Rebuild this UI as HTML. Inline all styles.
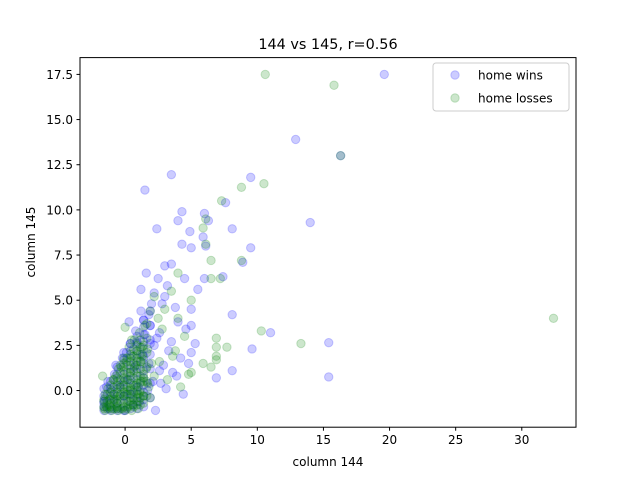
<!DOCTYPE html>
<html><head><meta charset="utf-8"><style>
body{margin:0;background:#fff;font-family:"Liberation Sans","DejaVu Sans",sans-serif}
svg text{font-family:"DejaVu Sans","Liberation Sans",sans-serif}
</style></head><body>
<svg id="c" width="640" height="480" xmlns="http://www.w3.org/2000/svg">
<rect width="640" height="480" fill="#fff"/>
<text x="328" y="49" font-size="14.4" text-anchor="middle">144 vs 145, r=0.56</text>
<g id="pts"></g>
<rect x="80" y="57.6" width="496" height="369.6" fill="none" stroke="#000" stroke-width="1"/>
<g id="axes"></g>
<text x="328" y="466" font-size="12" text-anchor="middle">column 144</text>
<text x="0" y="0" font-size="12" text-anchor="middle" transform="translate(35,242) rotate(-90)">column 145</text>
<g>
<rect x="433" y="63" width="136" height="48" rx="3" fill="#fff" fill-opacity="0.8" stroke="#ccc"/>
<circle cx="455" cy="75" r="4.2" fill="rgba(0,0,255,0.2)" stroke="rgba(0,0,255,0.2)"/>
<text x="478" y="79.5" font-size="12">home wins</text>
<circle cx="455" cy="98" r="4.2" fill="rgba(0,128,0,0.2)" stroke="rgba(0,128,0,0.2)"/>
<text x="478" y="102.5" font-size="12">home losses</text>
</g>
</svg>
<script>
const xTicks=[0,5,10,15,20,25,30];
const yTicks=[0,2.5,5,7.5,10,12.5,15,17.5];
const yTickLabels=["0.0","2.5","5.0","7.5","10.0","12.5","15.0","17.5"];
const winsX=[19.6,12.9,16.3,3.5,1.5,9.5,7.6,14,4.3,2.4,9.5,8.1,5.9,6.3,5,4.9,8.9,8.1,11,9.6,15.4,15.4,8.1,6.9,5,4,6,4.3,3.5,3,2.5,5.5,4.5,6,3,5,4,5,3.5,2.3,6.1,7.4,3.2,2.8,4.6,3.8,2.2,1.8,2.6,3.3,4.2,1.2,1.6,2,2.9,3.6,4.8,5.3,2.4,1.9,1.4,0.8,0.4,-0.2,-0.8,-1.4,-1.6,-1.2,-0.6,0,0.6,1.1,1.7,2.1,2.6,-1.5,-1,-0.4,0.2,0.7,1.3,1.9,-1.3,-0.7,0.1,0.9,1.5,2.2,-1.6,-0.9,-0.1,0.5,1,1.8,0.3,1.2,2.7,3.1,3.9,4.4];
const winsY=[17.5,13.9,13.0,11.95,11.1,11.8,10.4,9.3,9.9,8.95,7.9,8.95,8.5,9.4,7.9,8.8,7.1,4.2,3.2,2.3,2.65,0.75,1.1,0.7,2.1,9.4,9.8,8.1,7,6.9,6.2,5.6,6.2,6.2,5.2,4.5,3.8,3.6,2.7,-1.1,8,6.3,5.8,4.8,3.4,4.6,5.4,4.2,3.2,2.2,1.8,5.6,6.5,4.8,1.4,1,1.5,2.6,2.9,3.6,3.9,3.3,2.6,1.8,0.9,0.2,-0.9,-1,-1,-1.1,-0.8,-0.6,0,0.5,1.1,-0.4,0,0.3,0.6,1.3,2,2.6,0.5,1.4,2.1,2.7,3.1,2.5,-0.6,-0.5,-0.3,-0.2,0.2,1.5,3.8,4.4,0.4,0.1,0.8,-0.2];
const winsCoreX=[-1.6,-1.6,-1.6,-1.6,-1.1,-1.1,-1.1,-1.1,-1.1,-0.6,-0.6,-0.6,-0.6,-0.6,-0.6,-0.6,-0.1,-0.1,-0.1,-0.1,-0.1,-0.1,-0.1,-0.1,-0.1,0.4,0.4,0.4,0.4,0.4,0.4,0.4,0.4,0.4,0.4,0.9,0.9,0.9,0.9,0.9,0.9,0.9,0.9,0.9,0.9,0.9,1.4,1.4,1.4,1.4,1.4,1.4,1.4,1.4,1.4,1.4,1.4,1.4,1.4,1.9,1.9,1.9,1.9,1.9,1.9,1.9];
const winsCoreY=[-1.1,-0.7,-0.3,0.1,-1.1,-0.7,-0.3,0.1,0.5,-1.1,-0.7,-0.3,0.1,0.5,0.9,1.3,-1.1,-0.7,-0.3,0.1,0.5,0.9,1.3,1.7,2.1,-1.0,-0.6,-0.2,0.2,0.6,1.0,1.4,1.8,2.2,2.6,-1.0,-0.6,-0.2,0.2,0.6,1.0,1.4,1.8,2.2,2.6,3.0,-0.9,-0.5,-0.1,0.3,0.7,1.1,1.5,1.9,2.3,2.7,3.1,3.5,3.9,-0.4,0.4,1.2,2.0,2.8,3.6,4.4];
const lossX=[10.6,15.8,16.3,10.5,8.8,7.3,6.1,5.9,6.1,8.8,6.5,7.2,6.5,10.3,13.3,32.4,7.7,6.9,6.9,6.9,6.9,5.9,6.5,4.8,5,4,5,3.5,4,3,2.5,4.5,3.8,2.2,2.8,1.9,1.5,1.1,0.7,0.3,-0.1,-0.5,-0.9,-1.3,-1.6,-1.4,-1,-0.6,-0.2,0.2,0.6,1,1.4,1.8,2.2,-1.5,-1.1,-0.7,-0.3,0.1,0.5,0.9,1.3,1.7,-1.2,-0.8,-0.4,0,0.4,0.8,1.2,1.6,2,-1.6,-1.2,-0.8,-0.4,0,0.4,0.8,1.2,0.5,0.9,1.3,1.7,0.2,0.6,1,1.4,2.6,3.2,3.6,4.2,-1.7,0,-0.6,0.3,1.1,1.9];
const lossY=[17.5,16.9,13.0,11.45,11.25,10.5,9.5,9.0,8.1,7.2,7.2,6.2,6.2,3.3,2.6,4.0,2.4,2.9,2.4,1.9,1.7,1.5,1.3,0.9,1,4,5,5.5,6.5,4.5,4,3,2.2,5.2,3.4,4.4,3.6,3.2,2.8,2.4,1.8,1.2,0.6,0.1,-0.6,-0.9,-1,-1,-1,-0.9,-0.8,-0.6,-0.3,0.2,0.8,-0.2,0.3,0.8,1.3,1.6,1.9,2.2,2.4,2.3,-0.5,-0.2,0.2,0.6,1,1.4,1.6,1.2,1.5,-1,-0.8,-0.5,-0.3,-0.2,0.1,0.3,0.5,2.8,2.5,1.9,0.4,0,-0.4,-0.2,0.7,1.6,0.6,1.9,0.2,0.8,3.5,-0.7,-0.6,-0.1,-0.4];
const lossCoreX=[-1.35,-1.35,-1.35,-0.85,-0.85,-0.85,-0.85,-0.85,-0.35,-0.35,-0.35,-0.35,-0.35,-0.35,-0.35,0.15,0.15,0.15,0.15,0.15,0.15,0.15,0.15,0.65,0.65,0.65,0.65,0.65,0.65,0.65,0.65,0.65,1.15,1.15,1.15,1.15,1.15,1.15,1.15,1.15,1.15,1.15,1.65,1.65,1.65,1.65,1.65,1.65,-1.5,-1.0,-0.5,0.0,0.5,1.0];
const lossCoreY=[-1.0,-0.6,-0.2,-1.0,-0.6,-0.2,0.2,0.6,-1.0,-0.6,-0.2,0.2,0.6,1.0,1.4,-1.0,-0.6,-0.2,0.2,0.6,1.0,1.4,1.8,-0.9,-0.5,-0.1,0.3,0.7,1.1,1.5,1.9,2.3,-0.8,-0.4,0,0.4,0.8,1.2,1.6,2.0,2.4,2.8,-0.3,0.5,1.3,2.1,2.9,3.7,-1.1,-1.1,-1.1,-1.1,-1.1,-1.0];
const lossDenseX=[-1.6,-1.6,-1.1,-1.1,-1.1,-0.6,-0.6,-0.6,-0.6,-0.6,-0.1,-0.1,-0.1,-0.1,-0.1,-0.1,-0.1,0.4,0.4,0.4,0.4,0.4,0.4,0.4,0.4,0.9,0.9,0.9,0.9,0.9,0.9,0.9,0.9,1.4,1.4,1.4,1.4,1.4,1.4];
const lossDenseY=[-0.9,-0.5,-0.9,-0.5,-0.1,-0.9,-0.5,-0.1,0.3,0.7,-0.9,-0.5,-0.1,0.3,0.7,1.1,1.5,-0.8,-0.4,0,0.4,0.8,1.2,1.6,2.0,-0.8,-0.4,0,0.4,0.8,1.2,1.6,2.0,-0.7,-0.3,0.5,0.9,1.7,2.5];
const L=80,R=576,T=57.6,B=427.2,x0=-3.41,x1=34.1,y0=-2.03,y1=18.43;
const sx=v=>L+(v-x0)/(x1-x0)*(R-L);
const sy=v=>B-(v-y0)/(y1-y0)*(B-T);
const NS="http://www.w3.org/2000/svg";
const pts=document.getElementById('pts'),ax=document.getElementById('axes');
function dot(x,y,col,name){
 const c=document.createElementNS(NS,'circle');
 c.setAttribute('cx',sx(x));c.setAttribute('cy',sy(y));c.setAttribute('r',4.2);
 c.setAttribute('fill',col);c.setAttribute('stroke',col);
 
 
 pts.appendChild(c);
}
winsX.forEach((v,i)=>dot(v,winsY[i],'rgba(0,0,255,0.2)','home-win-point'));
winsCoreX.forEach((v,i)=>dot(v,winsCoreY[i],'rgba(0,0,255,0.2)','home-win-point'));
lossX.forEach((v,i)=>dot(v,lossY[i],'rgba(0,128,0,0.2)','home-loss-point'));
lossCoreX.forEach((v,i)=>dot(v,lossCoreY[i],'rgba(0,128,0,0.2)','home-loss-point'));
lossDenseX.forEach((v,i)=>dot(v,lossDenseY[i],'rgba(0,128,0,0.2)','home-loss-point'));
xTicks.forEach(t=>{
 const l=document.createElementNS(NS,'line');
 l.setAttribute('x1',sx(t));l.setAttribute('x2',sx(t));l.setAttribute('y1',B);l.setAttribute('y2',B+3.5);l.setAttribute('stroke','#000');
 
 
 ax.appendChild(l);
 const s=document.createElementNS(NS,'text');
 s.setAttribute('x',sx(t));s.setAttribute('y',B+17);s.setAttribute('font-size','12');s.setAttribute('text-anchor','middle');
 s.textContent=t;
 
 
 ax.appendChild(s);
});
yTicks.forEach((t,i)=>{
 const l=document.createElementNS(NS,'line');
 l.setAttribute('x1',L-3.5);l.setAttribute('x2',L);l.setAttribute('y1',sy(t));l.setAttribute('y2',sy(t));l.setAttribute('stroke','#000');
 
 
 ax.appendChild(l);
 const s=document.createElementNS(NS,'text');
 s.setAttribute('x',L-7);s.setAttribute('y',sy(t)+4.5);s.setAttribute('font-size','12');s.setAttribute('text-anchor','end');
 s.textContent=yTickLabels[i];
 
 
 ax.appendChild(s);
});
</script>
</body></html>
